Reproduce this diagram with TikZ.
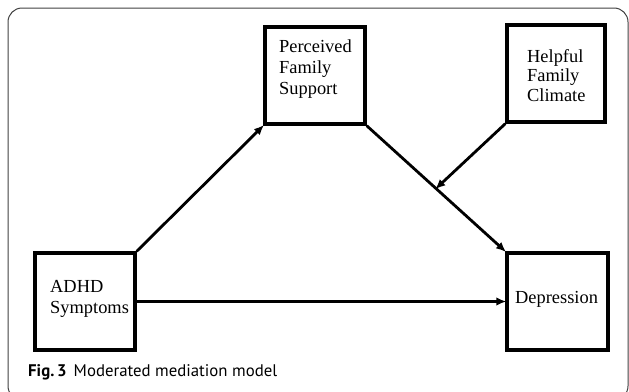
\documentclass[tikz,border=0pt]{standalone}
\usepackage{fontspec}
\setmainfont{Liberation Serif}
\newfontfamily\capfont{PT Sans}
\usetikzlibrary{arrows.meta,calc}
\tikzset{
  box/.style={draw=black, line width=3.4pt, minimum width=#1, inner sep=0pt},
  lbl/.style={font=\fontsize{18.4}{20.5}\selectfont, align=left, inner sep=0pt, anchor=base west},
  conn/.style={line width=2.8pt, -{Latex[length=10pt,width=8.5pt]}, shorten >=-1pt},
}
\begin{document}
\begin{tikzpicture}[x=1pt,y=-1pt]
\useasboundingbox (0,0) rectangle (629,391);
\begin{scope}
\clip (0,0) rectangle (629,391);
\draw[line width=1pt, draw=black!75, rounded corners=14pt] (8,8) rectangle (628,400);
\end{scope}
% boxes
\node[box=100pt, minimum height=97pt] (pfs) at (315,75.5) {};
\node[box=98pt, minimum height=97pt] (hfc) at (556,73.5) {};
\node[box=100pt, minimum height=97pt] (adhd) at (85,301.5) {};
\node[box=101pt, minimum height=97pt] (dep) at (557.5,301.5) {};
% labels (anchored at the baseline of their last line)
\node[lbl, font=\fontsize{18.4}{21}\selectfont] (pfsl) at (279,94) {Perceived\\Family\\Support};
\node[lbl, font=\fontsize{18.4}{19.5}\selectfont] (hfcl) at (527,101) {Helpful\\Family\\Climate};
\node[lbl, font=\fontsize{18.4}{20.5}\selectfont] (adhdl) at (50,313) {ADHD\\Symptoms};
\node[lbl] (depl) at (515,303) {Depression};
% connectors
\draw[conn] (adhd.north east) -- (pfs.south west);
\draw[conn] (pfs.south east) -- (dep.north west);
\draw[conn] (adhd.east) -- (dep.west);
\coordinate (mod) at ($(pfs.south east)!0.5!(dep.north west)$);
\draw[conn] (hfc.south west) -- (mod);
% caption
\node[anchor=base west, inner sep=0pt, font=\capfont\fontsize{16.8}{20}\selectfont] (cap) at (28,376) {\textbf{Fig.\,3}\hspace{7pt}Moderated mediation model};
\end{tikzpicture}
\end{document}
